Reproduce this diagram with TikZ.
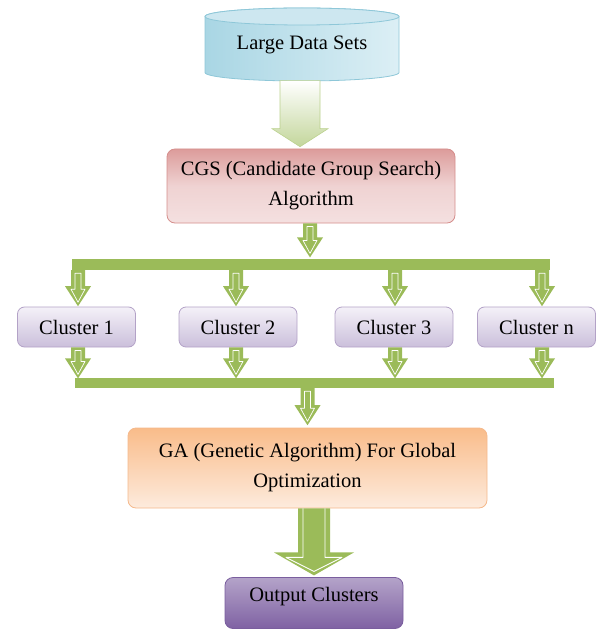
\documentclass[tikz,border=0pt]{standalone}
\usepackage{fontspec}
\setmainfont{Liberation Serif}
\usetikzlibrary{calc}
\definecolor{grn}{HTML}{9BBB59}
\definecolor{grnlt}{HTML}{C3D69B}
\definecolor{cylA}{HTML}{A9D6E4}
\definecolor{cylB}{HTML}{DCEFF5}
\definecolor{cylE}{HTML}{8EC7D8}
\definecolor{cgsA}{HTML}{DC9C9B}
\definecolor{cgsB}{HTML}{F4E0E0}
\definecolor{cgsE}{HTML}{D58E8C}
\definecolor{clA}{HTML}{F4F1F8}
\definecolor{clB}{HTML}{CBBFDB}
\definecolor{clE}{HTML}{B3A2C7}
\definecolor{gaA}{HTML}{F9BC8A}
\definecolor{gaB}{HTML}{FDEBDD}
\definecolor{gaE}{HTML}{F5B98C}
\definecolor{outA}{HTML}{B4A3C9}
\definecolor{outB}{HTML}{7F62A3}
\definecolor{outE}{HTML}{7A5E9E}
\tikzset{
  pics/sarr/.style={code={
    \fill[grn] (-7,0) -- (-7,{-#1+20}) -- (-13,{-#1+20}) -- (0,{-#1}) -- (13,{-#1+20}) -- (7,{-#1+20}) -- (7,0) -- cycle;
    \draw[white, line width=0.7pt, line join=round] (-3,-3) -- (-3,{-#1+17}) -- (-7,{-#1+17}) -- (0,{-#1+4}) -- (7,{-#1+17}) -- (3,{-#1+17}) -- (3,-3) -- cycle;
  }},
  pics/bigarr/.style={code={
    \fill[grn] (-16,0) -- (-16,-44) -- (-40,-44) -- (0,-67) -- (40,-44) -- (16,-44) -- (16,0) -- cycle;
    \draw[white, line width=0.9pt, line join=round] (-11,0) -- (-11,-49) -- (-28,-49) -- (0,-63) -- (28,-49) -- (11,-49) -- (11,0);
  }},
  pics/gradarr/.style={code={
    \shade[top color=white, bottom color=grnlt, draw=grnlt!80!grn, line width=0.6pt]
      (-20,0) -- (-20,-48) -- (-28,-48) -- (0,-66) -- (28,-48) -- (20,-48) -- (20,0) -- cycle;
  }},
  box/.style={rounded corners=8pt, line width=0.8pt, align=center, inner sep=0pt},
  cgsbox/.style={box, draw=cgsE, top color=cgsA, bottom color=cgsB, middle color=cgsB!80!cgsA, minimum width=288pt, minimum height=74pt},
  clbox/.style={box, rounded corners=7pt, draw=clE, top color=clA, bottom color=clB, minimum width=118pt, minimum height=40pt},
  gabox/.style={box, draw=gaE, top color=gaA, bottom color=gaB, minimum width=359pt, minimum height=80pt},
  outbox/.style={box, draw=outE, top color=outA, bottom color=outB, minimum width=178pt, minimum height=51pt, text depth=18pt},
  bus/.style={fill=grn, inner sep=0pt}
}
\begin{document}
\begin{tikzpicture}[x=1pt, y=1pt, font=\fontsize{20.5}{30}\selectfont]
\useasboundingbox (0,0) rectangle (597,-631);
% cylinder
\shade[left color=cylA, right color=cylB, draw=cylE, line width=0.8pt]
  (205,-16.5) -- (205,-72.5) arc[start angle=180, end angle=360, x radius=97, y radius=8.5]
  -- (399,-16.5) arc[start angle=0, end angle=180, x radius=97, y radius=8.5] -- cycle;
\draw[cylE, line width=0.8pt, fill=cylB!70!cylA] (302,-16.5) ellipse[x radius=97, y radius=8.5];
\node[inner sep=0pt, minimum width=194pt, minimum height=56pt] (lds) at (302,-44.5) {Large Data Sets};

\node[cgsbox] (cgs) at (311,-186) {CGS (Candidate Group Search)\\Algorithm};
\pic at ($(lds.south)+(-2,-8)$) {gradarr};

\node[clbox] (c1) at (76.5,-327) {Cluster 1};
\node[clbox] (c2) at (238,-327) {Cluster 2};
\node[clbox] (c3) at (394,-327) {Cluster 3};
\node[clbox] (cn) at (536.5,-327) {Cluster n};

\node[gabox] (ga) at (307.5,-468) {GA (Genetic Algorithm) For Global\\Optimization};
\node[outbox] (out) at (314,-603) {Output Clusters};

\node[bus, minimum width=478pt, minimum height=11pt] (bus1) at (311,-264.5) {};
\node[bus, minimum width=479pt, minimum height=10pt] (bus2) at (314.5,-383) {};

\pic at ([xshift=-1pt]cgs.south) {sarr=34};
\pic at ([xshift=1.5pt]c1.north |- bus1.south) {sarr=36};
\pic at ([xshift=-2pt]c2.north |- bus1.south) {sarr=36};
\pic at ([xshift=1pt]c3.north |- bus1.south) {sarr=36};
\pic at ([xshift=5.5pt]cn.north |- bus1.south) {sarr=36};
\pic at ([xshift=1.5pt]c1.south) {sarr=31};
\pic at ([xshift=-2pt]c2.south) {sarr=31};
\pic at ([xshift=1pt]c3.south) {sarr=31};
\pic at ([xshift=5.5pt]cn.south) {sarr=31};
\pic at (ga.north |- bus2.south) {sarr=37};
\pic at ([xshift=6.5pt]ga.south) {bigarr};
\end{tikzpicture}
\end{document}
